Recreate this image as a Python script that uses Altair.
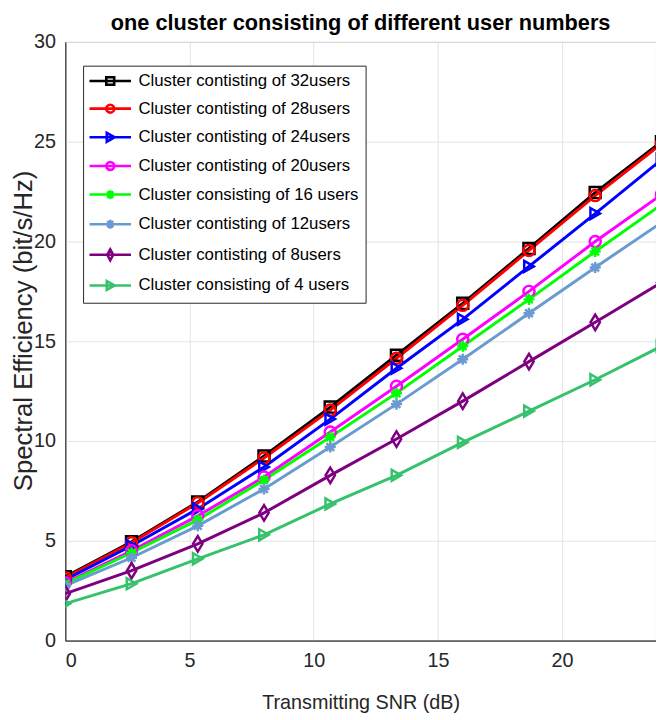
import altair as alt
import pandas as pd

snr = [0, 2.667, 5.333, 8, 10.667, 13.333, 16, 18.667, 21.333, 24]

names = [
    "Cluster contisting of 32users",
    "Cluster contisting of 28users",
    "Cluster contisting of 24users",
    "Cluster contisting of 20users",
    "Cluster consisting of 16 users",
    "Cluster contisting of 12users",
    "Cluster contisting of 8users",
    "Cluster consisting of 4 users",
]

se_32 = [3.2, 4.95, 6.95, 9.25, 11.7, 14.3, 16.9, 19.65, 22.45, 25.0]
se_28 = [3.15, 4.9, 6.9, 9.15, 11.55, 14.15, 16.8, 19.55, 22.3, 24.9]
se_24 = [3.05, 4.75, 6.6, 8.7, 11.1, 13.65, 16.1, 18.75, 21.4, 24.1]
se_20 = [2.9, 4.5, 6.25, 8.2, 10.45, 12.75, 15.1, 17.5, 20.0, 22.35]
se_16 = [2.85, 4.4, 6.05, 8.05, 10.2, 12.4, 14.75, 17.1, 19.5, 21.85]
se_12 = [2.75, 4.15, 5.75, 7.6, 9.7, 11.85, 14.1, 16.4, 18.7, 20.95]
se_8 = [2.35, 3.5, 4.85, 6.4, 8.28, 10.1, 12.0, 13.98, 15.95, 17.95]
se_4 = [1.85, 2.85, 4.1, 5.3, 6.85, 8.28, 9.93, 11.5, 13.07, 14.75]

series = [se_32, se_28, se_24, se_20, se_16, se_12, se_8, se_4]

colors = ["#000000", "#ff0000", "#0000ff", "#ff00ff", "#00ff00", "#6a9bd0", "#7e0080", "#36c26c"]

star = "M-1,0L1,0M0,-1L0,1M-0.7,-0.7L0.7,0.7M-0.7,0.7L0.7,-0.7"
diamond = "M0,-1.4L0.85,0L0,1.4L-0.85,0Z"
marker_shapes = ["square", "circle", "triangle-right", "circle", star, star, diamond, "triangle-right"]

# legend symbols: a line segment with the marker on it
leg_line = "M-1.8,0L6.6,0"
leg_shapes = [
    leg_line + "M1.6,-0.75L3.2,-0.75L3.2,0.75L1.6,0.75Z",
    leg_line + "M1.6,0A0.8,0.8 0 1,0 3.2,0A0.8,0.8 0 1,0 1.6,0",
    leg_line + "M1.7,-0.9L3.3,0L1.7,0.9Z",
    leg_line + "M1.6,0A0.8,0.8 0 1,0 3.2,0A0.8,0.8 0 1,0 1.6,0",
    leg_line + "M1.5,0L3.3,0M2.4,-0.9L2.4,0.9M1.8,-0.65L3,0.65M1.8,0.65L3,-0.65",
    leg_line + "M1.5,0L3.3,0M2.4,-0.9L2.4,0.9M1.8,-0.65L3,0.65M1.8,0.65L3,-0.65",
    leg_line + "M2.4,-1.1L3,0L2.4,1.1L1.8,0Z",
    leg_line + "M1.7,-0.9L3.3,0L1.7,0.9Z",
]

rows = []
for name, vals in zip(names, series):
    for x, y in zip(snr, vals):
        rows.append({"snr": x, "se": y, "series": name})
df = pd.DataFrame(rows)

FONT = "Liberation Sans, Arial"
XMAX = 23.78
AX = "#262626"

x_scale = alt.Scale(domain=[0, XMAX], nice=False, zero=False)
y_scale = alt.Scale(domain=[0, 30], nice=False)

x_bottom = alt.X(
    "snr:Q",
    scale=x_scale,
    axis=alt.Axis(
        title="Transmitting SNR (dB)",
        values=[0, 5, 10, 15, 20],
        format="d",
        tickSize=0,
        labelPadding=10,
        gridColor="#e3e3e3",
        domainColor=AX,
        labelColor=AX,
        titleColor=AX,
        labelFontSize=20,
        titleFontSize=20,
        titleFontWeight="normal",
        titlePadding=23,
    ),
)
y_enc = alt.Y(
    "se:Q",
    scale=y_scale,
    axis=alt.Axis(
        title="Spectral Efficiency (bit/s/Hz)",
        values=[0, 5, 10, 15, 20, 25, 30],
        tickSize=0,
        labelPadding=10,
        gridColor="#e3e3e3",
        domainColor=AX,
        labelColor=AX,
        titleColor=AX,
        labelFontSize=20,
        titleFontSize=26,
        titleFontWeight="normal",
        titleX=-42,
        titleY=292,
        titleBaseline="middle",
    ),
)

color_scale = alt.Scale(domain=names, range=colors)

lines = alt.Chart(df).mark_line(strokeWidth=3, clip=True).encode(
    x=x_bottom,
    y=y_enc,
    color=alt.Color("series:N", scale=color_scale, legend=None),
    detail="series:N",
)

points = alt.Chart(df).mark_point(filled=False, strokeWidth=2.5, size=125, opacity=1, clip=True).encode(
    x=alt.X("snr:Q", scale=x_scale),
    y=y_enc,
    color=alt.Color("series:N", scale=color_scale, legend=None),
    shape=alt.Shape("series:N", scale=alt.Scale(domain=names, range=marker_shapes), legend=None),
)

leg_props = dict(
    title=None,
    orient="none",
    legendX=18,
    legendY=24,
    fillColor="white",
    strokeColor=AX,
    padding=7,
    labelFontSize=17,
    labelFont=FONT,
    labelColor="#000000",
    labelOffset=32,
    symbolSize=100,
    symbolStrokeWidth=2.6,
    rowPadding=9,
    labelLimit=400,
)

legend_layer = alt.Chart(df).transform_filter("datum.snr < -100").mark_point(
    filled=False, strokeWidth=2.6, size=100, opacity=1
).encode(
    x=alt.X("snr:Q", scale=x_scale),
    y=y_enc,
    color=alt.Color("series:N", scale=color_scale, legend=alt.Legend(**leg_props)),
    shape=alt.Shape(
        "series:N",
        scale=alt.Scale(domain=names, range=leg_shapes),
        legend=alt.Legend(**leg_props),
    ),
)

chart = (
    alt.layer(lines, points, legend_layer)
    .resolve_scale(color="independent", shape="independent")
    .properties(
        width=598,
        height=606,
        title=alt.TitleParams(
            "one cluster consisting of different user numbers",
            fontSize=22,
            fontWeight="bold",
            font=FONT,
            anchor="middle",
            frame="group",
            offset=-3,
            color="#000000",
        ),
        autosize=alt.AutoSizeParams(type="none"),
        padding={"left": 58, "top": 30, "right": 0, "bottom": 74},
    )
    .configure(font=FONT)
    .configure_view(stroke=AX, strokeWidth=1)
    .configure_axis(labelFont=FONT, titleFont=FONT)
)

chart.save("out.html", embed_options={"renderer": "svg", "actions": False})
